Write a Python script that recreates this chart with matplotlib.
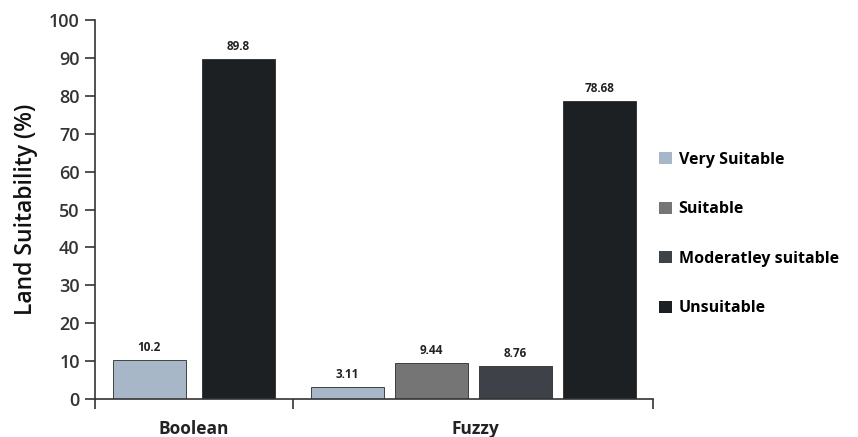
import numpy as np
import matplotlib
matplotlib.use('Agg')
import matplotlib.pyplot as plt
from matplotlib.patches import Patch

# data
groups = ['Boolean', 'Fuzzy']
classes = ['Very Suitable', 'Suitable', 'Moderatley suitable', 'Unsuitable']
colors = ['#a8b7c7', '#757575', '#3e4148', '#1d2022']
boolean_vals = [10.2, None, None, 89.8]
fuzzy_vals = [3.11, 9.44, 8.76, 78.68]
boolean_labels = ['10.2', None, None, '89.8']
fuzzy_labels = ['3.11', '9.44', '8.76', '78.68']

plt.rcParams['font.family'] = ['Open Sans', 'DejaVu Sans']

fig = plt.figure(figsize=(8.58, 4.37), dpi=100)
ax = fig.add_axes([95/858, 38/437, 558/858, 379/437])

# layout (in pixel-like x units across the axis width)
width = 73
group_slots = {
    'Boolean': ([0, 3], [54, 143.5]),
    'Fuzzy': ([0, 1, 2, 3], [252.5, 336.5, 420.5, 505]),
}
all_vals = {'Boolean': (boolean_vals, boolean_labels), 'Fuzzy': (fuzzy_vals, fuzzy_labels)}

for g in groups:
    idx, xs = group_slots[g]
    vals, labs = all_vals[g]
    for i, x in zip(idx, xs):
        ax.bar(x, vals[i], width=width, color=colors[i], edgecolor='#2a2a2a', linewidth=0.6, zorder=2)
        ax.text(x, vals[i] + 1.6, labs[i], ha='center', va='bottom', fontsize=8.5,
                fontweight='bold', color='#222222')

ax.set_xlim(0, 558)
ax.set_ylim(0, 100)
ax.set_yticks(np.arange(0, 101, 10))
ax.tick_params(axis='y', labelsize=13, length=7, width=1.2, colors='#333333', pad=4)
for lab in ax.get_yticklabels():
    lab.set_fontweight('semibold')
ax.set_xticks([0, 198, 558])
ax.set_xticklabels([])
ax.tick_params(axis='x', length=7, width=1.2, colors='#333333')

for g, cx in zip(groups, [99, 380]):
    ax.text(cx, -5.5, g, ha='center', va='top', fontsize=12.5, fontweight='bold', color='#222222')

for s in ['top', 'right']:
    ax.spines[s].set_visible(False)
for s in ['left', 'bottom']:
    ax.spines[s].set_color('#333333')
    ax.spines[s].set_linewidth(1.2)

ax.set_ylabel('Land Suitability (%)', fontsize=16.5, fontweight='semibold', color='#111111', labelpad=8)

handles = [Patch(facecolor=c, edgecolor='none') for c in colors]
fig.legend(handles, classes, loc='center left', bbox_to_anchor=(645/858, 1 - 234/437),
           frameon=False, handlelength=0.8, handleheight=0.8,
           handletextpad=0.4, labelspacing=2.1, prop={'weight': 'bold', 'size': 11.5})

plt.savefig('out.png', dpi=100)
